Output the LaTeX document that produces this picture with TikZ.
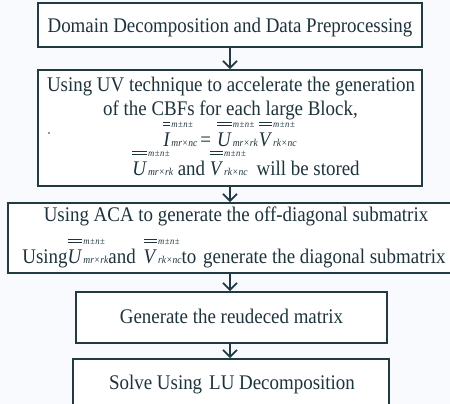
\documentclass[tikz,border=0pt]{standalone}
\usepackage{fontspec}
\setmainfont{Liberation Serif}[FakeStretch=0.91]
\usetikzlibrary{arrows.meta}
\definecolor{edge}{RGB}{34,58,66}
\definecolor{ink}{RGB}{30,52,60}
\definecolor{paper}{RGB}{249,250,253}
% double-barred block matrix: letter, two bars over it, m±n± beside the bars,
% and the block size as a small subscript
\newcommand\supfont{\fontsize{9.5}{10}\selectfont\itshape}
\newcommand\subfont{\fontsize{10.5}{11}\selectfont\itshape}
\newcommand\blockmat[2]{\mbox{%
  \sbox0{\textit{#1}}%
  \rlap{\raisebox{20.5pt}{\rule{\wd0}{0.8pt}}}%
  \rlap{\raisebox{23pt}{\rule{\wd0}{0.8pt}}}%
  \usebox0\hspace{1pt}%
  \rlap{\raisebox{18.5pt}{\supfont m\kern.5pt\textpm\kern.5pt n\kern.5pt\textpm}}%
  \raisebox{-0.5pt}{\subfont #2}}}
\tikzset{
  stagebox/.style={draw=edge, line width=1.6pt, fill=white, inner sep=0pt},
  label text/.style={text=ink, inner sep=0pt, anchor=base,
    font=\fontsize{20.8}{24}\selectfont},
  flowarrow/.style={draw=edge, line width=1.8pt,
    -{Straight Barb[length=7pt,width=14pt,line width=1.8pt]}},
}
\begin{document}
\begin{tikzpicture}[x=1pt,y=-1pt]
\useasboundingbox (0,0) rectangle (450,404);
\clip (0,0) rectangle (450,404);
\fill[paper] (0,0) rectangle (450,404);

% boxes
\node[stagebox, minimum width=384pt, minimum height=44pt] (b1) at (230,25) {};
\node[stagebox, minimum width=384pt, minimum height=116pt] (b2) at (230,128) {};
\node[stagebox, minimum width=454pt, minimum height=70pt] (b3) at (235,238) {};
\node[stagebox, minimum width=311pt, minimum height=51pt] (b4) at (231.5,317.5) {};
\node[stagebox, minimum width=316pt, minimum height=60pt] (b5) at (231,389) {};

% texts
\node[label text] (t1) at (230,33) {Domain Decomposition and Data Preprocessing};

\node[label text] (t2a) at (231,92) {Using UV technique to accelerate the generation};
\node[label text] (t2b) at (230.5,115) {of the CBFs for each large Block,};
\node[label text] (t2c) at (230,146)
  {\blockmat{I}{mr\texttimes nc}\hspace{3pt}=\hspace{6pt}\blockmat{U}{mr\texttimes rk}\hspace{1pt}\blockmat{V}{rk\texttimes nc}};
\node[label text] (t2d) at (246,175)
  {\blockmat{U}{mr\texttimes rk} and \blockmat{V}{rk\texttimes nc}\hspace{9pt}will be stored};
\fill[ink] (49,133) circle (0.8pt);

\node[label text] (t3a) at (236,221) {Using ACA to generate the off-diagonal submatrix};
\node[label text] (t3b) at (234,263)
  {Using\blockmat{U}{mr\texttimes rk}and\hspace{8pt}\blockmat{V}{rk\texttimes nc}to\hspace{7pt}generate the diagonal submatrix};

\node[label text] (t4) at (231.5,323) {Generate the reudeced matrix};
\node[label text] (t5) at (232,389) {Solve Using\hspace{7pt}LU Decomposition};

% flow arrows
\draw[flowarrow] (b1.south) -- (b1.south |- b2.north);
\draw[flowarrow] (b2.south) -- (b2.south |- b3.north);
\draw[flowarrow] (b3.south -| b2.south) -- (b4.north -| b2.south);
\draw[flowarrow] (b4.south -| b2.south) -- (b5.north -| b2.south);
\end{tikzpicture}
\end{document}
